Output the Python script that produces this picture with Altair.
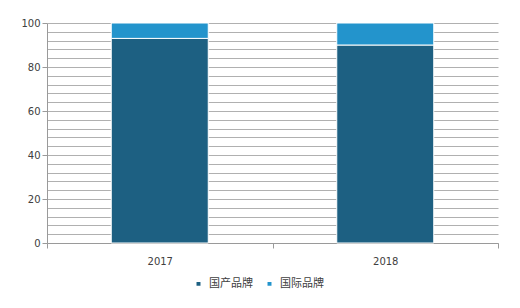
import altair as alt
import pandas as pd

years = ["2017", "2018"]
series = ["国产品牌", "国际品牌"]
domestic = [93, 90]
international = [7, 10]
colors = ["#1D6082", "#2394CC"]
y_ticks = list(range(0, 101, 4))

rows = []
for i, yr in enumerate(years):
    rows.append({"year": yr, "brand": series[0], "value": domestic[i], "ord": 0})
    rows.append({"year": yr, "brand": series[1], "value": international[i], "ord": 1})
df = pd.DataFrame(rows)

num_font = "DejaVu Sans"
cjk_font = "Noto Sans CJK SC"

chart = alt.Chart(df).mark_bar(width=97, stroke="white", strokeWidth=1).encode(
    x=alt.X("year:N", sort=years,
            scale=alt.Scale(paddingInner=0, paddingOuter=0),
            axis=alt.Axis(title=None, labelAngle=0, tickBand="extent",
                          domainColor="#9a9a9a", tickColor="#9a9a9a", tickSize=5,
                          labelPadding=8, labelFont=num_font, labelFontSize=10,
                          labelColor="#404040", grid=False)),
    y=alt.Y("value:Q", stack="zero", scale=alt.Scale(domain=[0, 100], nice=False),
            axis=alt.Axis(title=None, values=y_ticks,
                          labelExpr="datum.value % 20 === 0 ? datum.label : ''",
                          tickColor={"condition": {"test": "datum.value % 20 !== 0", "value": "transparent"}, "value": "#9a9a9a"},
                          tickSize=5, labelPadding=2, domainColor="#9a9a9a",
                          gridColor="#b0b0b0", gridWidth=1, labelFont=num_font,
                          labelFontSize=10, labelColor="#404040")),
    color=alt.Color("brand:N", scale=alt.Scale(domain=series, range=colors),
                    legend=alt.Legend(title=None, orient="none", legendX=146, legendY=255,
                                      direction="horizontal", symbolType="square",
                                      symbolSize=30, labelFont=cjk_font, labelFontSize=11,
                                      labelColor="#404040", columnPadding=10, labelOffset=5)),
    order=alt.Order("ord:Q"),
).properties(
    width=451, height=220,
    autosize=alt.AutoSizeParams(type="none"),
    padding={"left": 47, "top": 23, "right": 22, "bottom": 65},
    background="white",
).configure_view(stroke=None)

chart.save("out.html", embed_options={"renderer": "svg", "actions": False})
